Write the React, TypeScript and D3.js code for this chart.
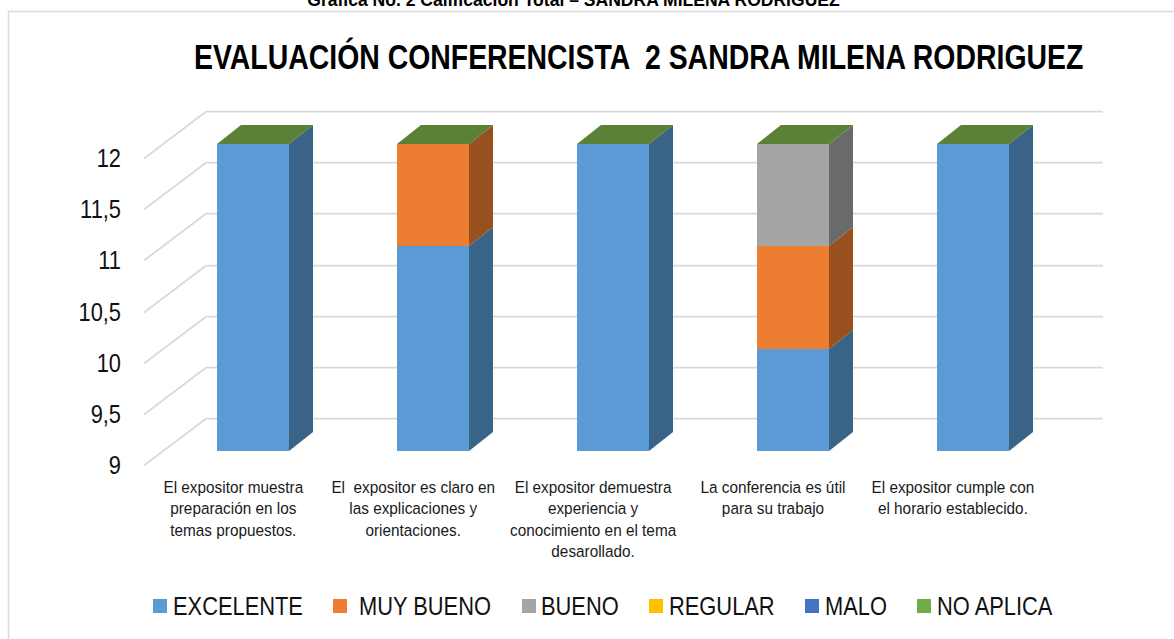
import * as d3 from "d3";

const categories = ["c1", "c2", "c3", "c4", "c5"];

const categoryLabels = [
  ["El expositor muestra", "preparación en los", "temas propuestos."],
  ["El  expositor es claro en", "las explicaciones y", "orientaciones."],
  ["El expositor demuestra", "experiencia y", "conocimiento en el tema", "desarollado."],
  ["La conferencia es útil", "para su trabajo"],
  ["El expositor cumple con", "el horario establecido."],
];

const seriesNames = ["EXCELENTE", "MUY BUENO", "BUENO", "REGULAR", "MALO", "NO APLICA"];
const excelente = [12, 11, 12, 10, 12];
const muyBueno = [0, 1, 0, 1, 0];
const bueno = [0, 0, 0, 1, 0];
const regular = [0, 0, 0, 0, 0];
const malo = [0, 0, 0, 0, 0];
const noAplica = [0, 0, 0, 0, 0];

const seriesValues = [excelente, muyBueno, bueno, regular, malo, noAplica];
const colors = ["#5B9BD5", "#ED7D31", "#A5A5A5", "#FFC000", "#4472C4", "#70AD47"];

// legend swatch / label left edges
const legendSwatchX = [153, 333, 522, 649, 805, 917];
const legendTextX = [173, 359, 541, 669, 825, 937];

const FONT = "'Liberation Sans', Arial, sans-serif";

const width = 1174;
const height = 639;

// front plane of the 3D box, the back wall sits up and to the right of it
const y = d3.scaleLinear().domain([9, 12]).rangeRound([451, 144]).clamp(true);
const x = d3
  .scaleBand<string>()
  .domain(categories)
  .range([163, 1063])
  .paddingInner(0.6)
  .paddingOuter(0.3);

const barDepthX = 24;
const barDepthY = 19;
const wallBackX = 206;
const wallFrontX = 144;
const wallBackOffset = -32.3;
const wallFrontOffset = 14.5;
const gridRight = 1103;

const stackRows = categories.map((c, i) => {
  const row: Record<string, number | string> = { category: c };
  seriesNames.forEach((name, s) => {
    row[name] = seriesValues[s][i];
  });
  return row;
});
const stacked = d3.stack<any>().keys(seriesNames)(stackRows);

const Txt = ({ x, y, size, anchor = "start", weight = "normal", fill = "#111", squeeze = 0.87, children }: any) => (
  <text
    transform={`translate(${x},${y}) scale(${squeeze},1)`}
    fontFamily={FONT}
    fontSize={size}
    fontWeight={weight}
    textAnchor={anchor}
    fill={fill}
    style={{ whiteSpace: "pre" }}
  >
    {children}
  </text>
);

export default function App() {
  const ticks = y.ticks(6);
  const bw = x.bandwidth();

  return (
    <svg
      width={width}
      height={height}
      style={{ position: "absolute", left: 0, top: 0, display: "block", background: "#fff" }}
    >
      <Txt x={573.5} y={6} size={18} anchor="middle" weight="bold" fill="#000" squeeze={0.975}>
        Grafica No. 2 Calificación Total – SANDRA MILENA RODRIGUEZ
      </Txt>

      {/* chart frame, only top and left edges are in the picture */}
      <path d={`M8.5,${height}V11.5H${width}`} fill="none" stroke="#D9D9D9" strokeWidth={1.5} />

      <Txt x={194} y={68.5} size={35} weight="bold" fill="#000" squeeze={0.812}>
        EVALUACIÓN CONFERENCISTA  2 SANDRA MILENA RODRIGUEZ
      </Txt>

      {/* grid on the back wall and the left side wall */}
      <g stroke="#D9D9D9" strokeWidth={1.8} fill="none">
        {ticks.map((t) => (
          <path
            key={t}
            d={`M${wallFrontX},${y(t) + wallFrontOffset}L${wallBackX},${y(t) + wallBackOffset}H${gridRight}`}
          />
        ))}
      </g>

      {ticks.map((t) => (
        <Txt key={t} x={121} y={y(t) + 22.5} size={26} anchor="end" squeeze={0.84}>
          {String(t).replace(".", ",")}
        </Txt>
      ))}

      {/* bars: every series paints a front and a side, the zero height last series leaves its top */}
      {stacked.map((layer, s) => (
        <g key={seriesNames[s]}>
          {layer.map((d, i) => {
            const x0 = x(categories[i])!;
            const x1 = x0 + bw;
            const yTop = y(d[1]);
            const yBottom = y(d[0]);
            const color = d3.color(colors[s])!;
            return (
              <g key={categories[i]}>
                {yBottom > yTop && (
                  <>
                    <path
                      d={`M${x1},${yTop}l${barDepthX},${-barDepthY}V${yBottom - barDepthY}L${x1},${yBottom}Z`}
                      fill={color.darker(1.25).toString()}
                    />
                    <rect x={x0} y={yTop} width={bw} height={yBottom - yTop} fill={colors[s]} />
                  </>
                )}
                {s === stacked.length - 1 && (
                  <path
                    d={`M${x0},${yTop}l${barDepthX},${-barDepthY}H${x1 + barDepthX}L${x1},${yTop}Z`}
                    fill="#5A8135"
                  />
                )}
              </g>
            );
          })}
        </g>
      ))}

      {categoryLabels.map((lines, i) => (
        <g key={categories[i]}>
          {lines.map((line, l) => (
            <Txt
              key={l}
              x={x(categories[i])! + bw / 2 - 19.7 - i * 0.1}
              y={492.7 + l * 21.5}
              size={16.5}
              anchor="middle"
              fill="#1a1a1a"
              squeeze={0.93}
            >
              {line}
            </Txt>
          ))}
        </g>
      ))}

      {seriesNames.map((name, s) => (
        <g key={name}>
          <rect x={legendSwatchX[s]} y={599} width={14} height={14} fill={colors[s]} />
          <Txt x={legendTextX[s]} y={614.5} size={26.5} squeeze={0.825}>
            {name}
          </Txt>
        </g>
      ))}
    </svg>
  );
}
